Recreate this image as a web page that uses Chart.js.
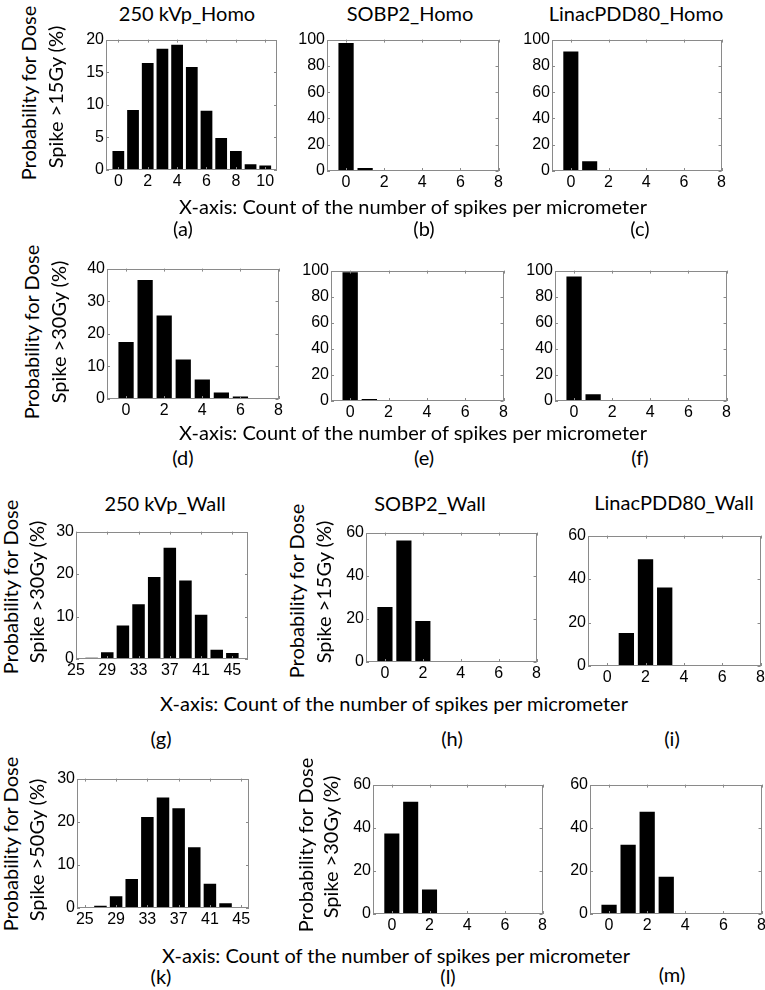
<!DOCTYPE html>
<html>
<head>
<meta charset="utf-8">
<script src="https://cdn.jsdelivr.net/npm/chart.js@4.4.1/dist/chart.umd.min.js"></script>
<style>
  html, body { margin: 0; padding: 0; background: #fff; }
  #page { position: relative; width: 765px; height: 990px; overflow: hidden; }
  canvas { position: absolute; }
  .txt { position: absolute; white-space: nowrap; color: #000;
         font-family: Lato, "Open Sans", sans-serif; font-size: 20px;
         transform: translate(-50%, -50%); line-height: 1; }
  .rot { transform: translate(-50%, -50%) rotate(-90deg); }
</style>
</head>
<body>
<div id="page"></div>
<script>
// ---- data ----
const binsCount = [0, 1, 2, 3, 4, 5, 6, 7, 8];
const binsCountA = [0, 1, 2, 3, 4, 5, 6, 7, 8, 9, 10];
const binsWall = [25, 27, 29, 31, 33, 35, 37, 39, 41, 43, 45];

const kvpHomo15 = [2.9, 9.2, 16.4, 18.6, 19.2, 15.8, 9.1, 4.9, 2.9, 0.9, 0.7];
const sobpHomo15 = [97.5, 2.3, 0, 0, 0, 0, 0, 0, 0];
const linacHomo15 = [91, 7.4, 0.5, 0, 0, 0, 0, 0, 0];
const kvpHomo30 = [17.5, 36.5, 25.6, 12.1, 6, 2, 0.8, 0.3, 0];
const sobpHomo30 = [98.7, 1.5, 0, 0, 0, 0, 0, 0, 0];
const linacHomo30 = [95.4, 5.1, 0.5, 0, 0, 0, 0, 0, 0];
const kvpWall30 = [0, 0.3, 1.6, 7.9, 12.9, 19.3, 26.2, 18.5, 10.4, 2.2, 1.4];
const sobpWall15 = [25.5, 56.3, 19, 0, 0, 0, 0, 0, 0];
const linacWall = [0, 15.2, 49.1, 36.1, 0, 0, 0, 0, 0];
const kvpWall50 = [0.2, 0.5, 2.7, 6.7, 21.1, 25.6, 23.1, 14.1, 5.6, 1.1, 0.2];
const sobpWall30 = [37.3, 52.1, 11.4, 0, 0, 0, 0, 0, 0];
const linacWall2 = [4.3, 32.1, 47.4, 17.3, 0, 0, 0, 0, 0];

const xTicks8 = [0, 2, 4, 6, 8];
const xTicks10 = [0, 2, 4, 6, 8, 10];
const xTicksWall = [25, 29, 33, 37, 41, 45];
const yTicks20 = [0, 5, 10, 15, 20];
const yTicks30 = [0, 10, 20, 30];
const yTicks40 = [0, 10, 20, 30, 40];
const yTicks60 = [0, 20, 40, 60];
const yTicks100 = [0, 20, 40, 60, 80, 100];

const xLabel = 'X-axis: Count of the number of spikes per micrometer';

// ---- panels: plot box (left, top, right, bottom) in page pixels ----
const panels = [
    { box: [106, 34, 277, 170], xs: binsCountA, ys: kvpHomo15, xr: [-0.84, 10.8], xt: xTicks10, yr: 20, yt: yTicks20 },
    { box: [327, 34, 499, 171], xs: binsCount, ys: sobpHomo15, xr: [-1, 8], xt: xTicks8, yr: 100, yt: yTicks100 },
    { box: [552, 34, 722, 171], xs: binsCount, ys: linacHomo15, xr: [-1, 8], xt: xTicks8, yr: 100, yt: yTicks100 },
    { box: [107, 263, 279, 399], xs: binsCount, ys: kvpHomo30, xr: [-1, 8], xt: xTicks8, yr: 40, yt: yTicks40 },
    { box: [331, 265, 504, 401], xs: binsCount, ys: sobpHomo30, xr: [-1, 8], xt: xTicks8, yr: 100, yt: yTicks100 },
    { box: [555, 265, 727, 401], xs: binsCount, ys: linacHomo30, xr: [-1, 8], xt: xTicks8, yr: 100, yt: yTicks100 },
    { box: [76, 526, 248, 659], xs: binsWall, ys: kvpWall30, xr: [25, 47], xt: xTicksWall, yr: 30, yt: yTicks30 },
    { box: [366, 527, 537, 662], xs: binsCount, ys: sobpWall15, xr: [-1, 8], xt: xTicks8, yr: 60, yt: yTicks60 },
    { box: [588, 530, 761, 666], xs: binsCount, ys: linacWall, xr: [-1, 8], xt: xTicks8, yr: 60, yt: yTicks60 },
    { box: [77, 773, 249, 908], xs: binsWall, ys: kvpWall50, xr: [24, 46], xt: xTicksWall, yr: 30, yt: yTicks30 },
    { box: [373, 779, 543, 914], xs: binsCount, ys: sobpWall30, xr: [-1, 8], xt: xTicks8, yr: 60, yt: yTicks60 },
    { box: [590, 779, 762, 914], xs: binsCount, ys: linacWall2, xr: [-1, 8], xt: xTicks8, yr: 60, yt: yTicks60 }
];

// text: [text, centerX, centerY, rotated]
const texts = [
    ['250 kVp_Homo', 187, 13], ['SOBP2_Homo', 410, 13], ['LinacPDD80_Homo', 636, 13],
    ['Probability for Dose', 28, 93, true], ['Spike >15Gy (%)', 55, 97, true],
    [xLabel, 413, 206], ['(a)', 183, 228], ['(b)', 424, 228], ['(c)', 640, 228],
    ['Probability for Dose', 31, 332, true], ['Spike >30Gy (%)', 58, 332, true],
    [xLabel, 413, 432], ['(d)', 183, 457], ['(e)', 424, 457], ['(f)', 640, 457],
    ['250 kVp_Wall', 165, 503], ['SOBP2_Wall', 430, 503], ['LinacPDD80_Wall', 674, 502],
    ['Probability for Dose', 10, 587, true], ['Spike >30Gy (%)', 36, 592, true],
    ['Probability for Dose', 296, 591, true], ['Spike >15Gy (%)', 323, 592, true],
    [xLabel, 394, 703], ['(g)', 161, 738], ['(h)', 452, 738], ['(i)', 672, 738],
    ['Probability for Dose', 10, 844, true], ['Spike >50Gy (%)', 36, 850, true],
    ['Probability for Dose', 305, 845, true], ['Spike >30Gy (%)', 330, 847, true],
    [xLabel, 396, 955], ['(k)', 161, 976], ['(l)', 448, 976], ['(m)', 672, 974]
];

const page = document.getElementById('page');
const tickFont = { family: '"Liberation Sans", Arial, sans-serif', size: 16 };
const Y_W = 40, X_H = 24, PAD = 6;

// box outline with small inward ticks on all sides
const boxPlugin = {
    id: 'matlabBox',
    afterDatasetsDraw(chart) {
        const { ctx, chartArea: a, scales: { x, y } } = chart;
        ctx.save();
        ctx.strokeStyle = '#8a8a8a';
        ctx.lineWidth = 1;
        ctx.strokeRect(Math.round(a.left) + 0.5, Math.round(a.top) + 0.5,
                       Math.round(a.width) - 1, Math.round(a.height) - 1);
        ctx.beginPath();
        x.ticks.forEach(t => {
            const px = Math.round(x.getPixelForValue(t.value)) + 0.5;
            ctx.moveTo(px, a.bottom); ctx.lineTo(px, a.bottom - 3);
            ctx.moveTo(px, a.top); ctx.lineTo(px, a.top + 3);
        });
        y.ticks.forEach(t => {
            const py = Math.round(y.getPixelForValue(t.value)) + 0.5;
            ctx.moveTo(a.left, py); ctx.lineTo(a.left + 3, py);
            ctx.moveTo(a.right, py); ctx.lineTo(a.right - 3, py);
        });
        ctx.stroke();
        ctx.restore();
    }
};

panels.forEach(p => {
    const [l, t, r, b] = p.box;
    const cv = document.createElement('canvas');
    cv.width = Y_W + (r - l) + PAD;
    cv.height = PAD + (b - t) + X_H;
    cv.style.left = (l - Y_W) + 'px';
    cv.style.top = (t - PAD) + 'px';
    page.appendChild(cv);

    new Chart(cv.getContext('2d'), {
        type: 'bar',
        data: {
            datasets: [{
                data: p.xs.map((x, i) => ({ x: x, y: p.ys[i] })),
                backgroundColor: '#000',
                borderWidth: 0,
                barPercentage: 0.8,
                categoryPercentage: 1.0
            }]
        },
        options: {
            responsive: false,
            animation: false,
            layout: { padding: { left: 0, top: PAD, right: PAD, bottom: 0 } },
            plugins: { legend: { display: false }, tooltip: { enabled: false } },
            scales: {
                x: {
                    type: 'linear',
                    min: p.xr[0],
                    max: p.xr[1],
                    offset: false,
                    grid: { display: false, drawTicks: false },
                    border: { display: false },
                    ticks: { font: tickFont, color: '#000', padding: 2, maxRotation: 0, autoSkip: false },
                    afterBuildTicks: s => { s.ticks = p.xt.map(v => ({ value: v })); },
                    afterFit: s => { s.height = X_H; }
                },
                y: {
                    min: 0,
                    max: p.yr,
                    grid: { display: false, drawTicks: false },
                    border: { display: false },
                    ticks: { font: tickFont, color: '#000', padding: 2 },
                    afterBuildTicks: s => { s.ticks = p.yt.map(v => ({ value: v })); },
                    afterFit: s => { s.width = Y_W; }
                }
            }
        },
        plugins: [boxPlugin]
    });
});

texts.forEach(([s, x, y, rot]) => {
    const d = document.createElement('div');
    d.className = rot ? 'txt rot' : 'txt';
    d.textContent = s;
    d.style.left = x + 'px';
    d.style.top = y + 'px';
    page.appendChild(d);
});
</script>
</body>
</html>
